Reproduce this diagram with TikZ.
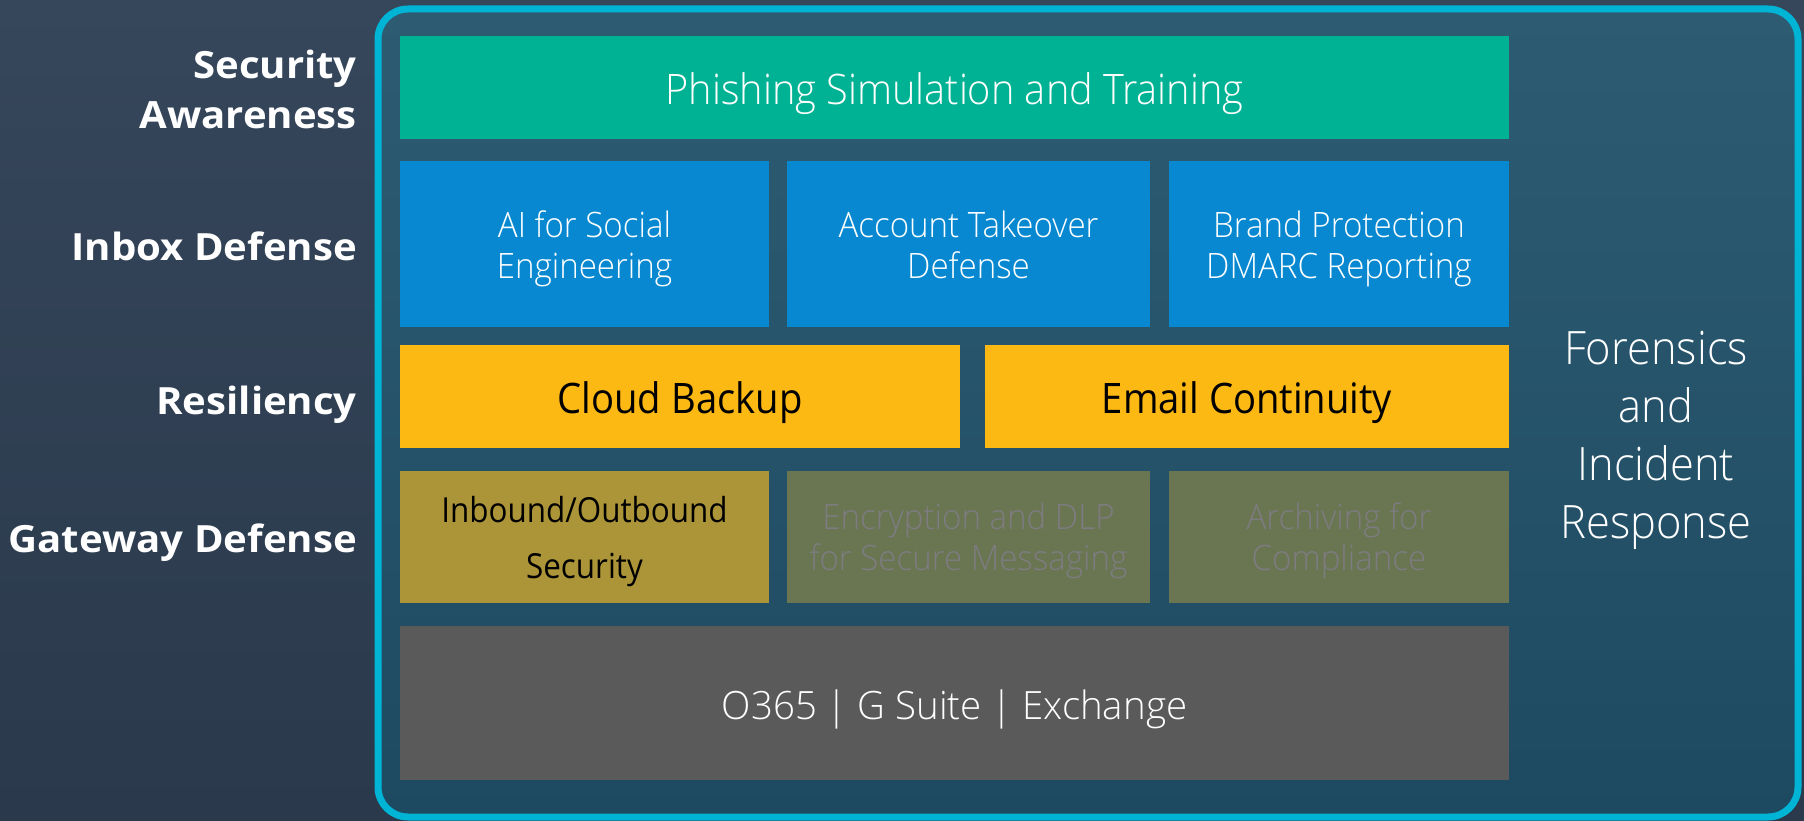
\documentclass[tikz,border=0pt]{standalone}
\usepackage{fontspec}
\setmainfont{Open Sans}
\IfFontExistsTF{Open Sans Light}{%
  \newfontfamily\lt[FakeStretch=0.945]{Open Sans Light}%
  \newfontfamily\ltw[FakeStretch=0.985]{Open Sans Light}%
}{%
  \newfontfamily\lt[FakeStretch=0.89]{Open Sans}%
  \newfontfamily\ltw[FakeStretch=0.95]{Open Sans}%
}
\newfontfamily\rg[FakeStretch=0.91]{Open Sans}
\newfontfamily\lbl[FakeStretch=1.07]{Open Sans}
\definecolor{bgtop}{HTML}{36465B}
\definecolor{bgbot}{HTML}{2A394B}
\definecolor{intop}{HTML}{2D5C72}
\definecolor{inbot}{HTML}{1E4A61}
\definecolor{rim}{HTML}{00B4D6}
\definecolor{tealg}{HTML}{00B294}
\definecolor{azure}{HTML}{0788D0}
\definecolor{amber}{HTML}{FDB913}
\definecolor{mustard}{HTML}{AC9538}
\definecolor{olivebox}{HTML}{6A7551}
\definecolor{slab}{HTML}{5A5A5A}
\definecolor{fadetxt}{HTML}{7D7C80}
\tikzset{
  tile/.style={anchor=north west, inner sep=0pt, outer sep=0pt, align=center, text=white},
  lighttxt/.style={font=\lt\fontsize{35}{41}\selectfont},
  bigtxt/.style={font=\lt\fontsize{42}{49}\selectfont},
  darktxt/.style={text=black, font=\rg\fontsize{42}{49}\selectfont},
  layer/.style={inner sep=0pt, align=right, text=white, font=\lbl\bfseries\fontsize{37.5}{50}\selectfont},
}
\begin{document}
\begin{tikzpicture}[x=1pt,y=-1pt]
\useasboundingbox (0,0) rectangle (1804,821);
\shade[top color=bgtop, bottom color=bgbot] (0,0) rectangle (1804,821);
\shade[top color=intop, bottom color=inbot, rounded corners=30pt] (378,9) rectangle (1798,817);
\draw[rim, line width=7pt, rounded corners=30pt] (378,9) rectangle (1798,817);

% tiles
\node[tile, fill=tealg, minimum width=1109pt, minimum height=103pt, bigtxt, text height=35pt, text depth=0pt] (phish) at (400,36) {Phishing Simulation and Training};

\node[tile, fill=azure, minimum width=369pt, minimum height=166pt, lighttxt, text height=68pt, text depth=0pt] (ai) at (400,161) {AI for Social\\Engineering};
\node[tile, fill=azure, minimum width=363pt, minimum height=166pt, lighttxt, text height=68pt, text depth=0pt] (ato) at (787,161) {Account Takeover\\Defense};
\node[tile, fill=azure, minimum width=340pt, minimum height=166pt, lighttxt, text height=68pt, text depth=0pt] (brand) at (1169,161) {Brand Protection\\DMARC Reporting};

\node[tile, fill=amber, darktxt, minimum width=560pt, minimum height=103pt, text height=33pt, text depth=0pt] (cloud) at (400,345) {Cloud Backup};
\node[tile, fill=amber, darktxt, minimum width=524pt, minimum height=103pt, text height=33pt, text depth=0pt] (cont) at (985,345) {Email Continuity};

\node[tile, fill=mustard, text=black, minimum width=369pt, minimum height=132pt, font=\rg\fontsize{34.5}{56}\selectfont, text height=82pt, text depth=0pt] (inb) at (400,471) {Inbound/Outbound\\Security};
\node[tile, fill=olivebox, text=fadetxt, minimum width=363pt, minimum height=132pt, lighttxt, text height=66pt, text depth=0pt] (enc) at (787,471) {Encryption and DLP\\for Secure Messaging};
\node[tile, fill=olivebox, text=fadetxt, minimum width=340pt, minimum height=132pt, lighttxt, text height=66pt, text depth=0pt] (arch) at (1169,471) {Archiving for\\Compliance};

\node[tile, fill=slab, minimum width=1109pt, minimum height=154pt, font=\ltw\fontsize{39}{45}\selectfont, text height=32pt, text depth=0pt] (o365) at (400,626) {O365 | G Suite | Exchange};

% side text
\node[anchor=base, inner sep=0pt, align=center, text=white, font=\lt\fontsize{46}{58}\selectfont] (foren) at (1656,538) {Forensics\\and\\Incident\\Response};

% layer labels
\node[layer, anchor=base east] (sa) at (357,128.5) {Security\\Awareness};
\node[layer, anchor=base east] (id) at (357,260.5) {Inbox Defense};
\node[layer, anchor=base east] (rs) at (357,414) {Resiliency};
\node[layer, anchor=base east] (gd) at (357,552) {Gateway Defense};
\end{tikzpicture}
\end{document}
